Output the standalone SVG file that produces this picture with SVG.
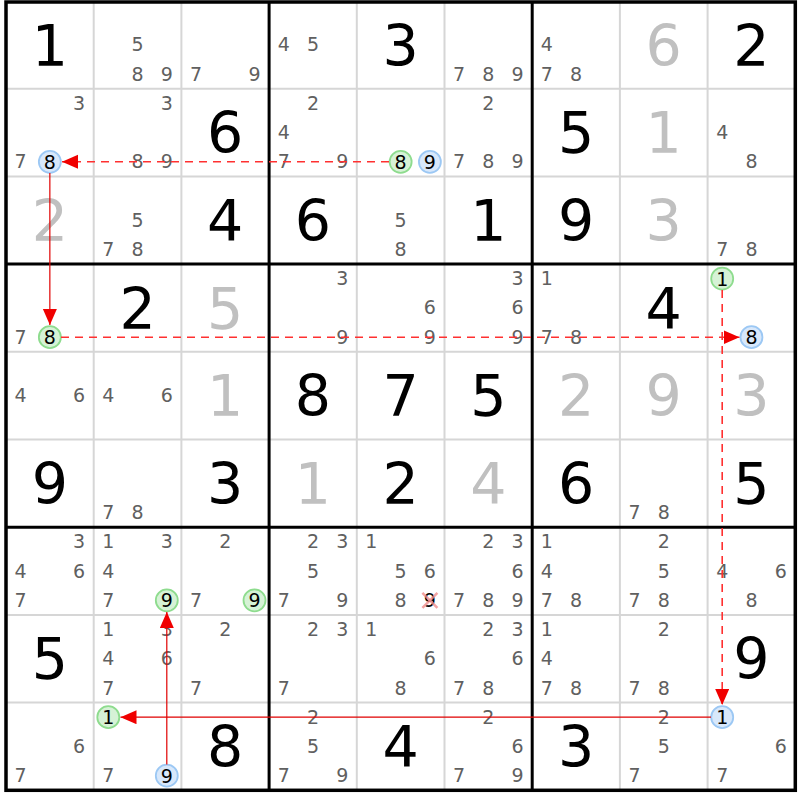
<svg xmlns="http://www.w3.org/2000/svg" width="800" height="800" viewBox="0 0 800 800">
<style>
text{font-family:"DejaVu Sans","Verdana",sans-serif;text-anchor:middle}
.g{font-size:57px;fill:#000}
.s{font-size:57px;fill:#c0c0c0}
.c{font-size:19px;fill:#606060}
.h{font-size:19px;fill:#000}
.thin{stroke:#d6d6d6;stroke-width:2}
.thick{stroke:#000;stroke-width:3}
.cg{fill:#d6f2d6;stroke:#8edc8e;stroke-width:1.8}
.cb{fill:#d8e8fb;stroke:#9cc8f4;stroke-width:1.8}
.dash{stroke:#ff3030;stroke-width:1.6;stroke-dasharray:8 6;fill:none}
.solid{stroke:#e00000;stroke-width:1.2;fill:none}
.xm{stroke:#f08c8c;stroke-width:2.5;stroke-opacity:0.8}
</style>
<defs>
<marker id="ah" markerUnits="userSpaceOnUse" markerWidth="18" markerHeight="16" refX="16" refY="7" orient="auto"><path d="M0,0 L16,7 L0,14 z" fill="#f00000"/></marker>
</defs>
<rect x="0" y="0" width="800" height="800" fill="#fff"/>
<g id="grid">
<line class="thin" x1="93.7" y1="1" x2="93.7" y2="790.3"/>
<line class="thin" x1="181.4" y1="1" x2="181.4" y2="790.3"/>
<line class="thin" x1="356.8" y1="1" x2="356.8" y2="790.3"/>
<line class="thin" x1="444.5" y1="1" x2="444.5" y2="790.3"/>
<line class="thin" x1="619.9" y1="1" x2="619.9" y2="790.3"/>
<line class="thin" x1="707.6" y1="1" x2="707.6" y2="790.3"/>
<line class="thin" x1="6" y1="88.7" x2="795.3" y2="88.7"/>
<line class="thin" x1="6" y1="176.4" x2="795.3" y2="176.4"/>
<line class="thin" x1="6" y1="351.8" x2="795.3" y2="351.8"/>
<line class="thin" x1="6" y1="439.5" x2="795.3" y2="439.5"/>
<line class="thin" x1="6" y1="614.9" x2="795.3" y2="614.9"/>
<line class="thin" x1="6" y1="702.6" x2="795.3" y2="702.6"/>
<line class="thick" x1="269.1" y1="1" x2="269.1" y2="790.3"/>
<line class="thick" x1="532.2" y1="1" x2="532.2" y2="790.3"/>
<line class="thick" x1="6" y1="264.1" x2="795.3" y2="264.1"/>
<line class="thick" x1="6" y1="527.2" x2="795.3" y2="527.2"/>
<rect x="6" y="2" width="789.3" height="788.3" fill="none" stroke="#000" stroke-width="3.5"/>
</g>
<g id="r0c0"><text class="g" x="49.85" y="65.5">1</text></g>
<g id="r0c1"><text class="c" x="137.55" y="51.35">5</text><text class="c" x="137.55" y="80.6">8</text><text class="c" x="166.8" y="80.6">9</text></g>
<g id="r0c2"><text class="c" x="196" y="80.6">7</text><text class="c" x="254.5" y="80.6">9</text></g>
<g id="r0c3"><text class="c" x="283.7" y="51.35">4</text><text class="c" x="312.95" y="51.35">5</text></g>
<g id="r0c4"><text class="g" x="400.65" y="65.5">3</text></g>
<g id="r0c5"><text class="c" x="459.1" y="80.6">7</text><text class="c" x="488.35" y="80.6">8</text><text class="c" x="517.6" y="80.6">9</text></g>
<g id="r0c6"><text class="c" x="546.8" y="51.35">4</text><text class="c" x="546.8" y="80.6">7</text><text class="c" x="576.05" y="80.6">8</text></g>
<g id="r0c7"><text class="s" x="663.75" y="65.5">6</text></g>
<g id="r0c8"><text class="g" x="751.45" y="65.5">2</text></g>

<g id="r1c0"><text class="c" x="79.1" y="109.8">3</text><text class="c" x="20.6" y="168.3">7</text><circle class="cb" cx="49.85" cy="161.8" r="11"/><text class="h" x="49.85" y="168.6">8</text></g>
<g id="r1c1"><text class="c" x="166.8" y="109.8">3</text><text class="c" x="137.55" y="168.3">8</text><text class="c" x="166.8" y="168.3">9</text></g>
<g id="r1c2"><text class="g" x="225.25" y="153.2">6</text></g>
<g id="r1c3"><text class="c" x="312.95" y="109.8">2</text><text class="c" x="283.7" y="139.05">4</text><text class="c" x="283.7" y="168.3">7</text><text class="c" x="342.2" y="168.3">9</text></g>
<g id="r1c4"><circle class="cg" cx="400.65" cy="161.8" r="11"/><text class="h" x="400.65" y="168.6">8</text><circle class="cb" cx="429.9" cy="161.8" r="11"/><text class="h" x="429.9" y="168.6">9</text></g>
<g id="r1c5"><text class="c" x="488.35" y="109.8">2</text><text class="c" x="459.1" y="168.3">7</text><text class="c" x="488.35" y="168.3">8</text><text class="c" x="517.6" y="168.3">9</text></g>
<g id="r1c6"><text class="g" x="576.05" y="153.2">5</text></g>
<g id="r1c7"><text class="s" x="663.75" y="153.2">1</text></g>
<g id="r1c8"><text class="c" x="722.2" y="139.05">4</text><text class="c" x="751.45" y="168.3">8</text></g>

<g id="r2c0"><text class="s" x="49.85" y="240.9">2</text></g>
<g id="r2c1"><text class="c" x="137.55" y="226.75">5</text><text class="c" x="108.3" y="256">7</text><text class="c" x="137.55" y="256">8</text></g>
<g id="r2c2"><text class="g" x="225.25" y="240.9">4</text></g>
<g id="r2c3"><text class="g" x="312.95" y="240.9">6</text></g>
<g id="r2c4"><text class="c" x="400.65" y="226.75">5</text><text class="c" x="400.65" y="256">8</text></g>
<g id="r2c5"><text class="g" x="488.35" y="240.9">1</text></g>
<g id="r2c6"><text class="g" x="576.05" y="240.9">9</text></g>
<g id="r2c7"><text class="s" x="663.75" y="240.9">3</text></g>
<g id="r2c8"><text class="c" x="722.2" y="256">7</text><text class="c" x="751.45" y="256">8</text></g>

<g id="r3c0"><text class="c" x="20.6" y="343.7">7</text><circle class="cg" cx="49.85" cy="337.2" r="11"/><text class="h" x="49.85" y="344">8</text></g>
<g id="r3c1"><text class="g" x="137.55" y="328.6">2</text></g>
<g id="r3c2"><text class="s" x="225.25" y="328.6">5</text></g>
<g id="r3c3"><text class="c" x="342.2" y="285.2">3</text><text class="c" x="342.2" y="343.7">9</text></g>
<g id="r3c4"><text class="c" x="429.9" y="314.45">6</text><text class="c" x="429.9" y="343.7">9</text></g>
<g id="r3c5"><text class="c" x="517.6" y="285.2">3</text><text class="c" x="517.6" y="314.45">6</text><text class="c" x="517.6" y="343.7">9</text></g>
<g id="r3c6"><text class="c" x="546.8" y="285.2">1</text><text class="c" x="546.8" y="343.7">7</text><text class="c" x="576.05" y="343.7">8</text></g>
<g id="r3c7"><text class="g" x="663.75" y="328.6">4</text></g>
<g id="r3c8"><circle class="cg" cx="722.2" cy="278.7" r="11"/><text class="h" x="722.2" y="285.5">1</text><circle class="cb" cx="751.45" cy="337.2" r="11"/><text class="h" x="751.45" y="344">8</text></g>

<g id="r4c0"><text class="c" x="20.6" y="402.15">4</text><text class="c" x="79.1" y="402.15">6</text></g>
<g id="r4c1"><text class="c" x="108.3" y="402.15">4</text><text class="c" x="166.8" y="402.15">6</text></g>
<g id="r4c2"><text class="s" x="225.25" y="416.3">1</text></g>
<g id="r4c3"><text class="g" x="312.95" y="416.3">8</text></g>
<g id="r4c4"><text class="g" x="400.65" y="416.3">7</text></g>
<g id="r4c5"><text class="g" x="488.35" y="416.3">5</text></g>
<g id="r4c6"><text class="s" x="576.05" y="416.3">2</text></g>
<g id="r4c7"><text class="s" x="663.75" y="416.3">9</text></g>
<g id="r4c8"><text class="s" x="751.45" y="416.3">3</text></g>

<g id="r5c0"><text class="g" x="49.85" y="504">9</text></g>
<g id="r5c1"><text class="c" x="108.3" y="519.1">7</text><text class="c" x="137.55" y="519.1">8</text></g>
<g id="r5c2"><text class="g" x="225.25" y="504">3</text></g>
<g id="r5c3"><text class="s" x="312.95" y="504">1</text></g>
<g id="r5c4"><text class="g" x="400.65" y="504">2</text></g>
<g id="r5c5"><text class="s" x="488.35" y="504">4</text></g>
<g id="r5c6"><text class="g" x="576.05" y="504">6</text></g>
<g id="r5c7"><text class="c" x="634.5" y="519.1">7</text><text class="c" x="663.75" y="519.1">8</text></g>
<g id="r5c8"><text class="g" x="751.45" y="504">5</text></g>

<g id="r6c0"><text class="c" x="79.1" y="548.3">3</text><text class="c" x="20.6" y="577.55">4</text><text class="c" x="79.1" y="577.55">6</text><text class="c" x="20.6" y="606.8">7</text></g>
<g id="r6c1"><text class="c" x="108.3" y="548.3">1</text><text class="c" x="166.8" y="548.3">3</text><text class="c" x="108.3" y="577.55">4</text><text class="c" x="108.3" y="606.8">7</text><circle class="cg" cx="166.8" cy="600.3" r="11"/><text class="h" x="166.8" y="607.1">9</text></g>
<g id="r6c2"><text class="c" x="225.25" y="548.3">2</text><text class="c" x="196" y="606.8">7</text><circle class="cg" cx="254.5" cy="600.3" r="11"/><text class="h" x="254.5" y="607.1">9</text></g>
<g id="r6c3"><text class="c" x="312.95" y="548.3">2</text><text class="c" x="342.2" y="548.3">3</text><text class="c" x="312.95" y="577.55">5</text><text class="c" x="283.7" y="606.8">7</text><text class="c" x="342.2" y="606.8">9</text></g>
<g id="r6c4"><text class="c" x="371.4" y="548.3">1</text><text class="c" x="400.65" y="577.55">5</text><text class="c" x="429.9" y="577.55">6</text><text class="c" x="400.65" y="606.8">8</text><text class="h" x="429.9" y="606.8">9</text><line class="xm" x1="422.4" y1="592.8" x2="437.4" y2="607.8"/><line class="xm" x1="437.4" y1="592.8" x2="422.4" y2="607.8"/></g>
<g id="r6c5"><text class="c" x="488.35" y="548.3">2</text><text class="c" x="517.6" y="548.3">3</text><text class="c" x="517.6" y="577.55">6</text><text class="c" x="459.1" y="606.8">7</text><text class="c" x="488.35" y="606.8">8</text><text class="c" x="517.6" y="606.8">9</text></g>
<g id="r6c6"><text class="c" x="546.8" y="548.3">1</text><text class="c" x="546.8" y="577.55">4</text><text class="c" x="546.8" y="606.8">7</text><text class="c" x="576.05" y="606.8">8</text></g>
<g id="r6c7"><text class="c" x="663.75" y="548.3">2</text><text class="c" x="663.75" y="577.55">5</text><text class="c" x="634.5" y="606.8">7</text><text class="c" x="663.75" y="606.8">8</text></g>
<g id="r6c8"><text class="c" x="722.2" y="577.55">4</text><text class="c" x="780.7" y="577.55">6</text><text class="c" x="751.45" y="606.8">8</text></g>

<g id="r7c0"><text class="g" x="49.85" y="679.4">5</text></g>
<g id="r7c1"><text class="c" x="108.3" y="636">1</text><text class="c" x="166.8" y="636">3</text><text class="c" x="108.3" y="665.25">4</text><text class="c" x="166.8" y="665.25">6</text><text class="c" x="108.3" y="694.5">7</text></g>
<g id="r7c2"><text class="c" x="225.25" y="636">2</text><text class="c" x="196" y="694.5">7</text></g>
<g id="r7c3"><text class="c" x="312.95" y="636">2</text><text class="c" x="342.2" y="636">3</text><text class="c" x="283.7" y="694.5">7</text></g>
<g id="r7c4"><text class="c" x="371.4" y="636">1</text><text class="c" x="429.9" y="665.25">6</text><text class="c" x="400.65" y="694.5">8</text></g>
<g id="r7c5"><text class="c" x="488.35" y="636">2</text><text class="c" x="517.6" y="636">3</text><text class="c" x="517.6" y="665.25">6</text><text class="c" x="459.1" y="694.5">7</text><text class="c" x="488.35" y="694.5">8</text></g>
<g id="r7c6"><text class="c" x="546.8" y="636">1</text><text class="c" x="546.8" y="665.25">4</text><text class="c" x="546.8" y="694.5">7</text><text class="c" x="576.05" y="694.5">8</text></g>
<g id="r7c7"><text class="c" x="663.75" y="636">2</text><text class="c" x="634.5" y="694.5">7</text><text class="c" x="663.75" y="694.5">8</text></g>
<g id="r7c8"><text class="g" x="751.45" y="679.4">9</text></g>

<g id="r8c0"><text class="c" x="79.1" y="752.95">6</text><text class="c" x="20.6" y="782.2">7</text></g>
<g id="r8c1"><circle class="cg" cx="108.3" cy="717.2" r="11"/><text class="h" x="108.3" y="724">1</text><text class="c" x="108.3" y="782.2">7</text><circle class="cb" cx="166.8" cy="775.7" r="11"/><text class="h" x="166.8" y="782.5">9</text></g>
<g id="r8c2"><text class="g" x="225.25" y="767.1">8</text></g>
<g id="r8c3"><text class="c" x="312.95" y="723.7">2</text><text class="c" x="312.95" y="752.95">5</text><text class="c" x="283.7" y="782.2">7</text><text class="c" x="342.2" y="782.2">9</text></g>
<g id="r8c4"><text class="g" x="400.65" y="767.1">4</text></g>
<g id="r8c5"><text class="c" x="488.35" y="723.7">2</text><text class="c" x="517.6" y="752.95">6</text><text class="c" x="459.1" y="782.2">7</text><text class="c" x="517.6" y="782.2">9</text></g>
<g id="r8c6"><text class="g" x="576.05" y="767.1">3</text></g>
<g id="r8c7"><text class="c" x="663.75" y="723.7">2</text><text class="c" x="663.75" y="752.95">5</text><text class="c" x="634.5" y="782.2">7</text></g>
<g id="r8c8"><circle class="cb" cx="722.2" cy="717.2" r="11"/><text class="h" x="722.2" y="724">1</text><text class="c" x="780.7" y="752.95">6</text><text class="c" x="722.2" y="782.2">7</text></g>

<g id="connectors">
<line class="dash" x1="389" y1="161.8" x2="62" y2="161.8" marker-end="url(#ah)"/>
<line class="solid" x1="49.85" y1="173" x2="49.85" y2="325" marker-end="url(#ah)"/>
<line class="dash" x1="61" y1="337.2" x2="739.5" y2="337.2" marker-end="url(#ah)"/>
<line class="dash" x1="722.2" y1="290" x2="722.2" y2="705" marker-end="url(#ah)"/>
<line class="solid" x1="711" y1="717.2" x2="120.5" y2="717.2" marker-end="url(#ah)"/>
<line class="solid" x1="166.8" y1="764.5" x2="166.8" y2="612" marker-end="url(#ah)"/>
</g>
</svg>
